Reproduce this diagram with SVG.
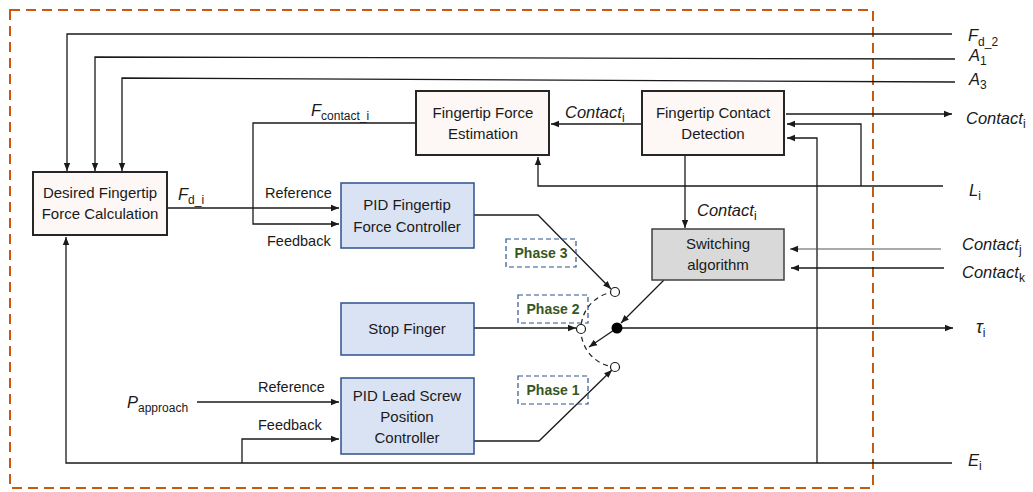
<svg xmlns="http://www.w3.org/2000/svg" width="1033" height="492" viewBox="0 0 1033 492">
  <style>
    .box-w { fill: #fdf7f5; stroke: #262626; stroke-width: 2; }
    .box-b { fill: #dae3f3; stroke: #2f528f; stroke-width: 1.5; }
    .box-g { fill: #d9d9d9; stroke: #404040; stroke-width: 1.5; }
    .phase { fill: none; stroke: #2f528f; stroke-width: 1.2; stroke-dasharray: 5 3; }
    .t { font-family: "Liberation Sans", Arial, sans-serif; font-size: 15px; fill: #1a1a1a; text-anchor: middle; }
    .lbl { font-family: "Liberation Sans", Arial, sans-serif; font-size: 14.5px; fill: #1a1a1a; }
    .var { font-family: "Liberation Sans", Arial, sans-serif; font-size: 16.5px; font-style: italic; fill: #1a1a1a; }
    .sub { font-size: 12px; font-style: normal; }
    .ph { font-family: "Liberation Sans", Arial, sans-serif; font-size: 14px; font-weight: bold; fill: #375623; text-anchor: middle; }
    .ln { fill: none; stroke: #1a1a1a; stroke-width: 1.3; marker-end: url(#arr); }
    .thin { fill: none; stroke: #555; stroke-width: 1; marker-end: url(#arr); }
  </style>
  <defs>
    <marker id="arr" viewBox="0 0 10 10" refX="10" refY="5" markerWidth="8" markerHeight="8" orient="auto" markerUnits="userSpaceOnUse">
      <path d="M0,1 L10,5 L0,9 z" fill="#1a1a1a"/>
    </marker>
  </defs>

  <rect width="1033" height="492" fill="#ffffff"/>

  <!-- finger controller boundary -->
  <rect x="10" y="10" width="863" height="478" fill="none" stroke="#c55a11" stroke-width="2" stroke-dasharray="10 6"/>

  <g id="connectors">
    <path class="ln" d="M952,34 H67 V171"/>
    <path class="ln" d="M955,59 L95,57 V171"/>
    <path class="ln" d="M955,82 L122,78 V171"/>
    <path class="ln" d="M167,208 H339"/>
    <path class="ln" d="M416,123 H253 V224 H339"/>
    <path class="ln" d="M642,124 H551"/>
    <path class="ln" d="M786,114 H952"/>
    <path class="ln" d="M943,186 H538 V157"/>
    <path class="ln" d="M861,186 V124 H787"/>
    <path class="ln" d="M817,463 V138 H787"/>
    <path class="ln" d="M685,155 V228"/>
    <path class="thin" d="M941,249 H790"/>
    <path class="ln" d="M944,268 H791"/>
    <path class="ln" d="M664,280 L621,323"/>
    <path class="ln" d="M617,328 H953"/>
    <path class="ln" d="M617,328 L589,347"/>
    <path class="ln" d="M474,215 H538 L611,289"/>
    <path class="ln" d="M474,328 H576"/>
    <path class="ln" d="M474,441 H539 L612,370"/>
    <path class="ln" d="M952,463 H66 V237"/>
    <path class="ln" d="M242,463 V439 H339"/>
    <path class="ln" d="M197,402 H339"/>
    <!-- switch throw -->
    <path d="M615,292 A37,37 0 0 0 581,329 A37,37 0 0 0 615,367" fill="none" stroke="#1a1a1a" stroke-width="1.2" stroke-dasharray="5 4"/>
    <circle cx="615" cy="292" r="4.5" fill="#fff" stroke="#1a1a1a" stroke-width="1.2"/>
    <circle cx="581" cy="329" r="4.5" fill="#fff" stroke="#1a1a1a" stroke-width="1.2"/>
    <circle cx="615" cy="367" r="4.5" fill="#fff" stroke="#1a1a1a" stroke-width="1.2"/>
    <circle cx="617" cy="328" r="5.5" fill="#000"/>
  </g>

  <g id="desired-force">
    <rect class="box-w" x="33" y="172" width="134" height="63"/>
    <text class="t" x="100" y="198">Desired Fingertip</text>
    <text class="t" x="100" y="219">Force Calculation</text>
  </g>

  <g id="force-estimation">
    <rect class="box-w" x="416" y="91" width="133" height="64"/>
    <text class="t" x="483" y="118">Fingertip Force</text>
    <text class="t" x="483" y="139">Estimation</text>
  </g>

  <g id="contact-detection">
    <rect class="box-w" x="642" y="91" width="142" height="64"/>
    <text class="t" x="713" y="118">Fingertip Contact</text>
    <text class="t" x="713" y="139">Detection</text>
  </g>

  <g id="pid-force">
    <rect class="box-b" x="341" y="183" width="133" height="65"/>
    <text class="t" x="407" y="210">PID Fingertip</text>
    <text class="t" x="407" y="232">Force Controller</text>
  </g>

  <g id="switching">
    <rect class="box-g" x="652" y="229" width="132" height="51"/>
    <text class="t" x="718" y="249">Switching</text>
    <text class="t" x="718" y="270">algorithm</text>
  </g>

  <g id="stop-finger">
    <rect class="box-b" x="341" y="303" width="133" height="52"/>
    <text class="t" x="407" y="334">Stop Finger</text>
  </g>

  <g id="pid-position">
    <rect class="box-b" x="341" y="378" width="133" height="76"/>
    <text class="t" x="407" y="401">PID Lead Screw</text>
    <text class="t" x="407" y="422">Position</text>
    <text class="t" x="407" y="443">Controller</text>
  </g>

  <g id="phase-3">
    <rect class="phase" x="506" y="239" width="70" height="28"/>
    <text class="ph" x="541" y="258">Phase 3</text>
  </g>
  <g id="phase-2">
    <rect class="phase" x="518" y="295" width="70" height="28"/>
    <text class="ph" x="553" y="314">Phase 2</text>
  </g>
  <g id="phase-1">
    <rect class="phase" x="518" y="376" width="70" height="28"/>
    <text class="ph" x="553" y="395">Phase 1</text>
  </g>

  <g id="labels">
    <text class="var" x="178" y="200">F<tspan class="sub" dy="4">d_i</tspan></text>
    <text class="var" x="311" y="116">F<tspan class="sub" dy="4">contact_i</tspan></text>
    <text class="var" x="565" y="118">Contact<tspan class="sub" dy="4">i</tspan></text>
    <text class="var" x="697" y="216">Contact<tspan class="sub" dy="4">i</tspan></text>
    <text class="lbl" x="265" y="198">Reference</text>
    <text class="lbl" x="267" y="246">Feedback</text>
    <text class="lbl" x="258" y="392">Reference</text>
    <text class="lbl" x="258" y="430">Feedback</text>
    <text class="var" x="127" y="408">P<tspan class="sub" dy="4">approach</tspan></text>

    <text class="var" x="968" y="41">F<tspan class="sub" dy="5">d_2</tspan></text>
    <text class="var" x="969" y="61">A<tspan class="sub" dy="4">1</tspan></text>
    <text class="var" x="969" y="85">A<tspan class="sub" dy="4">3</tspan></text>
    <text class="var" x="966" y="124">Contact<tspan class="sub" dy="4">i</tspan></text>
    <text class="var" x="969" y="196">L<tspan class="sub" dy="4">i</tspan></text>
    <text class="var" x="962" y="250">Contact<tspan class="sub" dy="4">j</tspan></text>
    <text class="var" x="962" y="278">Contact<tspan class="sub" dy="4">k</tspan></text>
    <text class="var" x="976" y="333" style="font-size:18px">τ<tspan class="sub" dy="4">i</tspan></text>
    <text class="var" x="968" y="466">E<tspan class="sub" dy="4">i</tspan></text>
  </g>
</svg>
